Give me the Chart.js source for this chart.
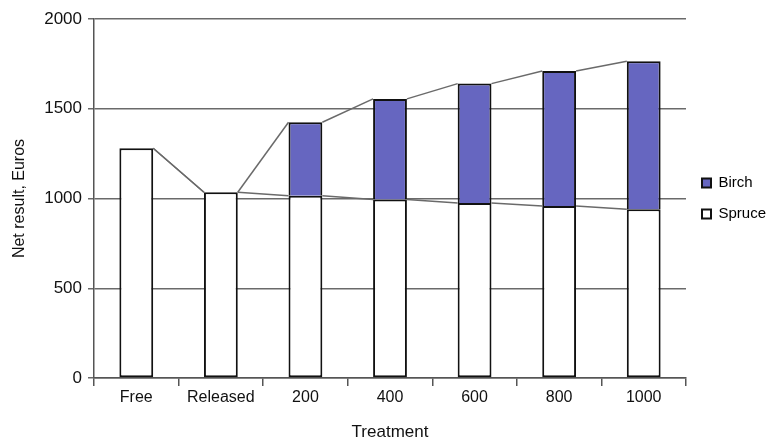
<!DOCTYPE html>
<html>
<head>
<meta charset="utf-8">
<script src="https://cdn.jsdelivr.net/npm/chart.js@4/dist/chart.umd.min.js"></script>
<style>
  html, body { margin: 0; padding: 0; background: #fff; }
  #wrap { width: 773px; height: 443px; }
</style>
</head>
<body>
<div id="wrap"><canvas id="myChart" width="773" height="443"></canvas></div>
<script>
// net result per treatment, euros
const treatments = ['Free', 'Released', '200', '400', '600', '800', '1000'];
const spruce = [1280, 1035, 1015, 995, 975, 958, 940];
const birch = [0, 0, 410, 560, 665, 752, 825];
const yTicks = [0, 500, 1000, 1500, 2000];

const font = 'Arial, "Liberation Sans", sans-serif';

// Excel-style series lines joining the top edges of neighbouring stacked bars
const seriesLines = {
  id: 'seriesLines',
  afterDatasetsDraw(chart) {
    const ctx = chart.ctx;
    ctx.save();
    ctx.strokeStyle = '#6a6a6a';
    ctx.lineWidth = 1.5;
    chart.data.datasets.forEach((ds, di) => {
      const bars = chart.getDatasetMeta(di).data;
      for (let i = 0; i < bars.length - 1; i++) {
        const a = bars[i], b = bars[i + 1];
        ctx.beginPath();
        ctx.moveTo(a.x + a.width / 2, a.y);
        ctx.lineTo(b.x - b.width / 2, b.y);
        ctx.stroke();
      }
    });
    ctx.restore();
  }
};

const ctx = document.getElementById('myChart').getContext('2d');
const myChart = new Chart(ctx, {
  type: 'bar',
  data: {
    labels: treatments,
    datasets: [{
      label: 'Spruce',
      data: spruce,
      backgroundColor: '#ffffff',
      borderColor: '#111111',
      borderWidth: 2,
      borderSkipped: false
    }, {
      label: 'Birch',
      data: birch,
      backgroundColor: '#6666c0',
      borderColor: '#111111',
      borderWidth: 2,
      borderSkipped: 'start'
    }]
  },
  options: {
    responsive: false,
    animation: false,
    layout: { padding: { top: 19, right: 0, bottom: 0, left: 0 } },
    datasets: {
      bar: { categoryPercentage: 1, barPercentage: 0.4 }
    },
    plugins: {
      tooltip: { enabled: false },
      legend: {
        position: 'right',
        fullSize: false,
        reverse: true,
        maxWidth: 87,
        labels: {
          boxWidth: 9,
          boxHeight: 9,
          padding: 16,
          color: '#111',
          font: { family: font, size: 15 },
          generateLabels(chart) {
            return chart.data.datasets.map((ds, i) => ({
              text: ds.label,
              fillStyle: ds.backgroundColor,
              strokeStyle: '#111',
              lineWidth: 2,
              datasetIndex: i
            }));
          }
        }
      }
    },
    scales: {
      x: {
        stacked: true,
        grid: {
          offset: true,
          drawOnChartArea: false,
          drawTicks: true,
          tickLength: 8,
          color: '#555',
          lineWidth: 1.5
        },
        border: { color: '#555', width: 1.5 },
        ticks: {
          color: '#111',
          padding: 2,
          maxRotation: 0,
          font: { family: font, size: 16 }
        },
        title: {
          display: true,
          text: 'Treatment',
          color: '#111',
          padding: { top: 15, bottom: 0 },
          font: { family: font, size: 17 }
        },
        afterFit(scale) { scale.height = 65; }
      },
      y: {
        stacked: true,
        min: 0,
        max: 2000,
        afterBuildTicks(scale) {
          scale.ticks = yTicks.map(v => ({ value: v }));
        },
        grid: {
          color: '#6a6a6a',
          lineWidth: 1.5,
          tickLength: 6
        },
        border: { color: '#555', width: 1.5 },
        ticks: {
          color: '#111',
          padding: 6,
          font: { family: font, size: 17 },
          callback: (v) => String(v)
        },
        title: {
          display: true,
          text: 'Net result, Euros',
          color: '#111',
          padding: { top: 10, bottom: 0 },
          font: { family: font, size: 16 }
        },
        afterFit(scale) { scale.width = 94; }
      }
    }
  },
  plugins: [seriesLines]
});
</script>
</body>
</html>
